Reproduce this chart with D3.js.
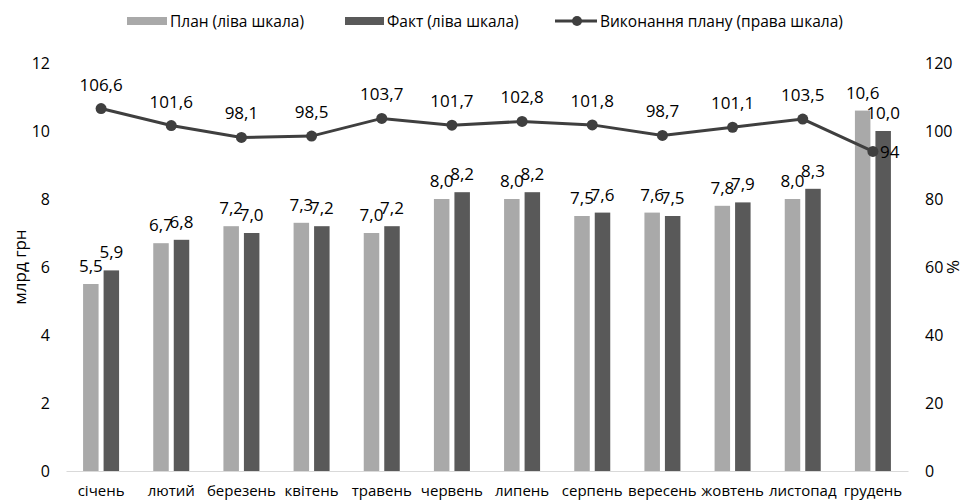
<!DOCTYPE html>
<html>
<head>
<meta charset="utf-8">
<script src="https://cdn.jsdelivr.net/npm/d3@7"></script>
<style>
  body { margin: 0; background: #fff; }
  svg { display: block; font-family: "Open Sans", "Noto Sans", sans-serif; }
</style>
</head>
<body>
<svg id="chart" width="971" height="502"></svg>
<script>
// Monthly plan vs. actual (bn UAH) and plan fulfilment (%)
const months = ["січень", "лютий", "березень", "квітень", "травень", "червень",
                "липень", "серпень", "вересень", "жовтень", "листопад", "грудень"];
const planValues = [5.5, 6.7, 7.2, 7.3, 7.0, 8.0, 8.0, 7.5, 7.6, 7.8, 8.0, 10.6];
const factValues = [5.9, 6.8, 7.0, 7.2, 7.2, 8.2, 8.2, 7.6, 7.5, 7.9, 8.3, 10.0];
const fulfilment = [106.6, 101.6, 98.1, 98.5, 103.7, 101.7, 102.8, 101.8, 98.7, 101.1, 103.5, 94];
const leftTicks = [0, 2, 4, 6, 8, 10, 12];
const rightTicks = [0, 20, 40, 60, 80, 100, 120];

(function draw() {
  const svg = d3.select("#chart");
  const plotLeft = 66, plotRight = 908, plotTop = 63, plotBottom = 471;
  const font = "'Open Sans', 'Noto Sans', sans-serif";

  const x = d3.scaleBand().domain(months).range([plotLeft, plotRight]).paddingInner(0).paddingOuter(0);
  const yL = d3.scaleLinear().domain([0, 12]).range([plotBottom, plotTop]);
  const yR = d3.scaleLinear().domain([0, 120]).range([plotBottom, plotTop]);

  const planColor = "#a9a9a9", factColor = "#595959", lineColor = "#3f3f3f";
  const fmt = v => d3.format(".1f")(v).replace(".", ",");
  const fmtPct = v => (Number.isInteger(v) ? String(v) : d3.format(".1f")(v).replace(".", ","));

  // Left axis
  const axL = svg.append("g").attr("transform", `translate(${plotLeft},0)`)
    .call(d3.axisLeft(yL).tickValues(leftTicks).tickSize(0).tickPadding(16));
  axL.select(".domain").remove();
  axL.selectAll("text").attr("font-size", 16).attr("fill", "#000").attr("font-family", font);

  // Right axis
  const axR = svg.append("g").attr("transform", `translate(${plotRight},0)`)
    .call(d3.axisRight(yR).tickValues(rightTicks).tickSize(0).tickPadding(17));
  axR.select(".domain").remove();
  axR.selectAll("text").attr("font-size", 16).attr("fill", "#000").attr("font-family", font);

  // Category axis
  const axX = svg.append("g").attr("transform", `translate(0,${plotBottom})`)
    .call(d3.axisBottom(x).tickSize(0).tickPadding(14));
  axX.select(".domain").attr("stroke", "#d9d9d9").attr("stroke-width", 1);
  axX.selectAll("text").attr("font-size", 15).attr("fill", "#000").attr("font-family", font);

  // Axis titles
  svg.append("text").attr("transform", `translate(26,${(plotTop + plotBottom) / 2}) rotate(-90)`)
    .attr("text-anchor", "middle").attr("font-size", 17).text("млрд грн");
  svg.append("text").attr("transform", `translate(959,${(plotTop + plotBottom) / 2}) rotate(-90)`)
    .attr("text-anchor", "middle").attr("font-size", 17).text("%");

  // Bars
  const barW = 15.5, gap = 5;
  const g = svg.append("g");
  const cxOf = m => x(m) + x.bandwidth() / 2;
  months.forEach((m, i) => {
    const cx = cxOf(m);
    const px = cx - gap / 2 - barW, fx = cx + gap / 2;
    g.append("rect").attr("x", px).attr("y", yL(planValues[i]))
      .attr("width", barW).attr("height", yL(0) - yL(planValues[i])).attr("fill", planColor);
    g.append("rect").attr("x", fx).attr("y", yL(factValues[i]))
      .attr("width", barW).attr("height", yL(0) - yL(factValues[i])).attr("fill", factColor);
  });

  // Bar labels
  months.forEach((m, i) => {
    const cx = cxOf(m);
    const px = cx - gap / 2 - barW / 2, fx = cx + gap / 2 + barW / 2;
    g.append("text").attr("x", px).attr("y", yL(planValues[i]) - 12)
      .attr("text-anchor", "middle").attr("font-size", 17).text(fmt(planValues[i]));
    g.append("text").attr("x", fx).attr("y", yL(factValues[i]) - 12)
      .attr("text-anchor", "middle").attr("font-size", 17).text(fmt(factValues[i]));
  });

  // Fulfilment line
  const last = months.length - 1;
  const line = d3.line().x((d, i) => cxOf(months[i])).y(d => yR(d));
  svg.append("path").datum(fulfilment).attr("d", line)
    .attr("fill", "none").attr("stroke", lineColor).attr("stroke-width", 3);
  svg.selectAll(".pt").data(fulfilment).join("circle").attr("class", "pt")
    .attr("cx", (d, i) => cxOf(months[i])).attr("cy", d => yR(d)).attr("r", 5.5)
    .attr("fill", lineColor);
  svg.selectAll(".pl").data(fulfilment).join("text").attr("class", "pl")
    .attr("x", (d, i) => i === last ? cxOf(months[i]) + 7 : cxOf(months[i]))
    .attr("y", (d, i) => i === last ? yR(d) + 7 : yR(d) - 18)
    .attr("text-anchor", (d, i) => i === last ? "start" : "middle")
    .attr("font-size", 17).text(d => fmtPct(d));

  // Legend
  const lg = svg.append("g").attr("font-size", 15.5);
  lg.append("rect").attr("x", 127).attr("y", 17).attr("width", 40).attr("height", 8).attr("fill", planColor);
  lg.append("text").attr("x", 170).attr("y", 27).text("План (ліва шкала)");
  lg.append("rect").attr("x", 345).attr("y", 17).attr("width", 39).attr("height", 8).attr("fill", factColor);
  lg.append("text").attr("x", 387).attr("y", 27).text("Факт (ліва шкала)");
  lg.append("line").attr("x1", 555).attr("x2", 597).attr("y1", 21).attr("y2", 21)
    .attr("stroke", lineColor).attr("stroke-width", 3);
  lg.append("circle").attr("cx", 577).attr("cy", 21).attr("r", 5).attr("fill", lineColor);
  lg.append("text").attr("x", 600).attr("y", 27).text("Виконання плану (права шкала)");
})();
</script>
</body>
</html>
